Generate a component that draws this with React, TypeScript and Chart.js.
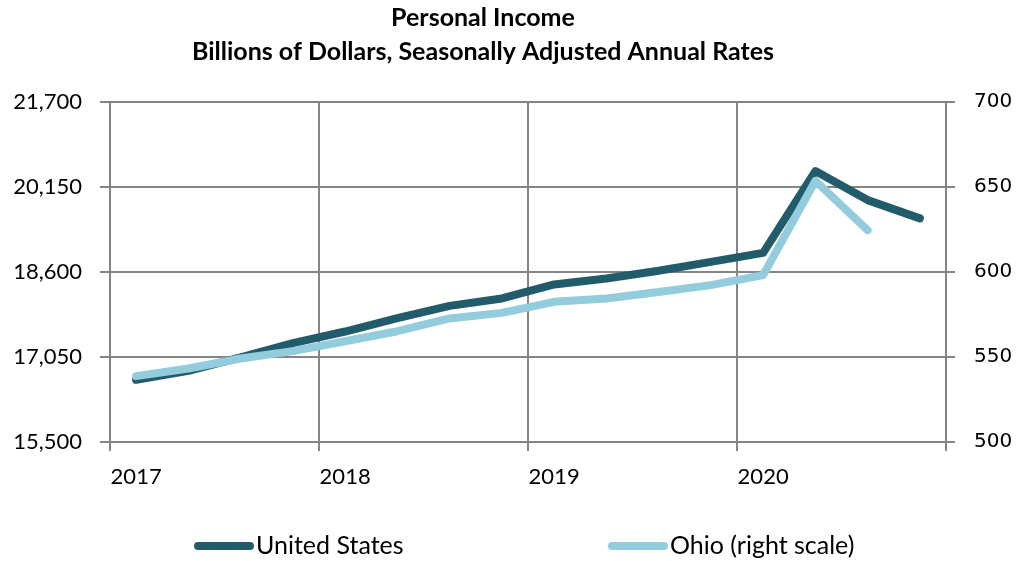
import React, { useEffect, useRef } from 'react';
import { Chart, registerables } from 'chart.js';

Chart.register(...registerables);

const quarters = [
  '2017 Q1', '2017 Q2', '2017 Q3', '2017 Q4',
  '2018 Q1', '2018 Q2', '2018 Q3', '2018 Q4',
  '2019 Q1', '2019 Q2', '2019 Q3', '2019 Q4',
  '2020 Q1', '2020 Q2', '2020 Q3', '2020 Q4',
];
const yearLabels = ['2017', '2018', '2019', '2020'];

const usIncome = [
  16634, 16795, 17040, 17300, 17513, 17756, 17980, 18115,
  18370, 18480, 18620, 18782, 18946, 20436, 19907, 19574,
];
const ohioIncome = [
  538.7, 543.2, 549.1, 553.4, 559.2, 565.1, 572.6, 575.9,
  582.4, 584.3, 588.2, 592.2, 598.1, 653.5, 624.5, null,
];

const leftTicks = [15500, 17050, 18600, 20150, 21700];
const rightTicks = [500, 550, 600, 650, 700];

const titleLines = ['Personal Income', 'Billions of Dollars, Seasonally Adjusted Annual Rates'];
const seriesNames = ['United States', 'Ohio (right scale)'];

const US_COLOR = '#225B69';
const OHIO_COLOR = '#93CDDD';
const GRID = '#858585';
const FONT = 'Lato, "Open Sans", sans-serif';

const legendPlugin = {
  id: 'customLegend',
  afterLayout(chart: any) {
    // shift the title's centre slightly left, as in the original
    if (chart.titleBlock) {
      chart.titleBlock.left = 0;
      chart.titleBlock.right = 966;
    }
  },
  afterDraw(chart: any) {
    const ctx = chart.ctx;
    const xs = [198, 612];
    const y = 546;
    ctx.save();
    chart.data.datasets.forEach((ds: any, i: number) => {
      const x = xs[i];
      ctx.beginPath();
      ctx.lineCap = 'round';
      ctx.lineWidth = 8;
      ctx.strokeStyle = ds.borderColor;
      ctx.moveTo(x, y);
      ctx.lineTo(x + 52, y);
      ctx.stroke();
      ctx.fillStyle = '#000';
      ctx.font = `25px ${FONT}`;
      ctx.textBaseline = 'middle';
      ctx.textAlign = 'left';
      ctx.fillText(ds.label, x + 58, y);
    });
    ctx.restore();
  },
};

export default function App() {
  const ref = useRef<HTMLCanvasElement | null>(null);

  useEffect(() => {
    document.body.style.margin = '0';
    if (!ref.current) return;
    const chart = new Chart(ref.current, {
      type: 'line',
      data: {
        labels: quarters,
        datasets: [
          {
            label: seriesNames[0],
            data: usIncome,
            borderColor: US_COLOR,
            backgroundColor: US_COLOR,
            borderWidth: 8,
            borderCapStyle: 'round',
            borderJoinStyle: 'round',
            pointRadius: 0,
            tension: 0,
            yAxisID: 'y',
            order: 1,
          },
          {
            label: seriesNames[1],
            data: ohioIncome,
            borderColor: OHIO_COLOR,
            backgroundColor: OHIO_COLOR,
            borderWidth: 8,
            borderCapStyle: 'round',
            borderJoinStyle: 'round',
            pointRadius: 0,
            tension: 0,
            yAxisID: 'y1',
            order: 0,
          },
        ],
      },
      options: {
        animation: false,
        responsive: true,
        maintainAspectRatio: false,
        layout: { padding: { left: 0, right: 0, top: 0, bottom: 0 } },
        plugins: {
          legend: { display: false },
          tooltip: { enabled: false },
          title: {
            display: true,
            text: titleLines,
            color: '#000',
            font: { family: FONT, size: 25, weight: 'bold', lineHeight: 1.36 },
            padding: { top: 1, bottom: 32.7 },
          },
        },
        scales: {
          x: {
            type: 'category',
            offset: true,
            afterFit: (s: any) => { s.height = 119; },
            grid: {
              offset: true,
              lineWidth: 2,
              tickLength: 9,
              color: (c: any) => (c.index === undefined || c.index % 4 === 0 ? GRID : 'rgba(0,0,0,0)'),
              tickColor: (c: any) => (c.index === undefined || c.index % 4 === 0 ? GRID : 'rgba(0,0,0,0)'),
            },
            border: { display: true, color: GRID, width: 2 },
            ticks: {
              autoSkip: false,
              maxRotation: 0,
              minRotation: 0,
              padding: 13,
              color: '#000',
              font: { family: FONT, size: 22 },
              callback: (_v: any, i: number) => (i % 4 === 0 ? yearLabels[i / 4] : ''),
            },
          },
          y: {
            position: 'left',
            min: leftTicks[0],
            max: leftTicks[leftTicks.length - 1],
            afterFit: (s: any) => { s.width = 110; },
            afterBuildTicks: (s: any) => { s.ticks = leftTicks.map((v) => ({ value: v })); },
            grid: { color: GRID, lineWidth: 2, tickLength: 10 },
            border: { display: true, color: GRID, width: 2 },
            ticks: {
              padding: 18,
              color: '#000',
              font: { family: FONT, size: 22 },
              callback: (v: any) => Number(v).toLocaleString('en-US'),
            },
          },
          y1: {
            position: 'right',
            min: rightTicks[0],
            max: rightTicks[rightTicks.length - 1],
            afterFit: (s: any) => { s.width = 70; },
            afterBuildTicks: (s: any) => { s.ticks = rightTicks.map((v) => ({ value: v })); },
            grid: { drawOnChartArea: false, color: GRID, lineWidth: 2, tickLength: 9 },
            border: { display: true, color: GRID, width: 2 },
            ticks: {
              padding: 19,
              color: '#000',
              font: { family: '"DejaVu Sans", sans-serif', size: 20 },
              callback: (v: any) => String(v),
            },
          },
        },
      },
      plugins: [legendPlugin],
    });
    return () => chart.destroy();
  }, []);

  return (
    <div style={{ position: 'relative', width: '1016px', height: '561px' }}>
      <canvas ref={ref} />
    </div>
  );
}
